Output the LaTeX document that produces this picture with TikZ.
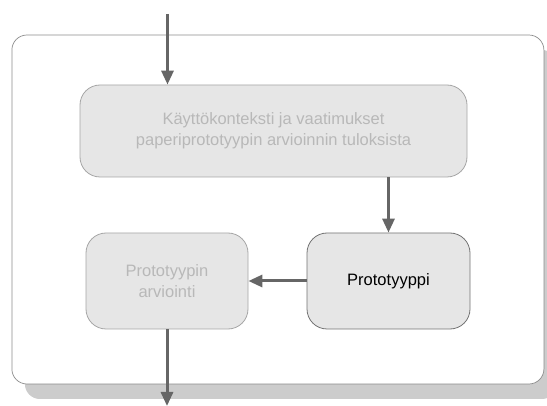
\documentclass[tikz,border=0pt]{standalone}
\usepackage{fontspec}
\setmainfont{Liberation Sans}
\usetikzlibrary{arrows.meta,shadows}
\definecolor{boxfill}{HTML}{E6E6E6}
\definecolor{dimtext}{HTML}{B8B8B8}
\definecolor{flowline}{HTML}{666666}
\definecolor{shadowgray}{HTML}{CCCCCC}
\begin{document}
\begin{tikzpicture}[x=1pt,y=-1pt,
  framebox/.style={draw=black!45, line width=0.7pt, rounded corners=15pt, fill=white,
    minimum width=532pt, minimum height=349pt, inner sep=0pt,
    drop shadow={shadow xshift=13pt, shadow yshift=-15pt, fill=shadowgray, opacity=1}},
  stepbox/.style={draw=black!55, line width=0.8pt, rounded corners=20pt, fill=boxfill,
    inner sep=0pt, align=center, font=\fontsize{16.5}{21}\selectfont},
  dimbox/.style={stepbox, draw=black!35, text=dimtext},
  flow/.style={draw=flowline, line width=3pt, -{Triangle[width=12pt,length=14pt]}}
]
\useasboundingbox (0,0) rectangle (547,406);

% enclosing frame with its shadow
\node[framebox] (frame) at (277.9,209.5) {};

% process steps
\node[dimbox, minimum width=387pt, minimum height=92pt] (ctx) at (273.5,131)
  {Käyttökonteksti ja vaatimukset\\paperiprototyypin arvioinnin tuloksista};
\node[dimbox, minimum width=162pt, minimum height=96pt] (eval) at (167,281)
  {Prototyypin\\arviointi};
\node[stepbox, minimum width=163pt, minimum height=96pt] (proto) at (388.5,281)
  {Prototyyppi};

% free ends of the incoming and outgoing flows
\coordinate (in) at (167.5,14);
\coordinate (out) at (167,406);

% flows
\draw[flow] (in) -- (in |- ctx.north);
\draw[flow] (proto.north |- ctx.south) -- (proto.north);
\draw[flow] (proto.west) -- (eval.east);
\draw[flow] (eval.south) -- (out);
\end{tikzpicture}
\end{document}
